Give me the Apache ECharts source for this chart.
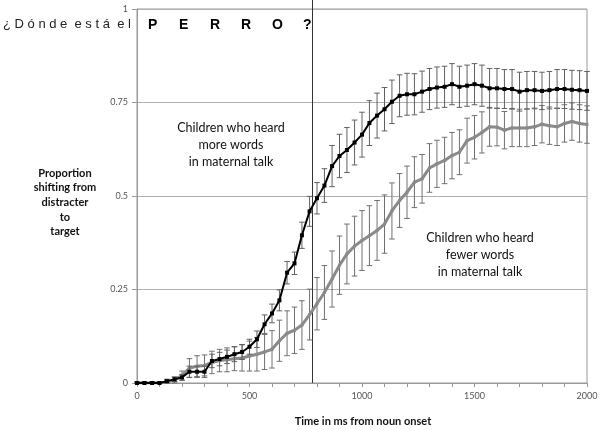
<!DOCTYPE html>
<html>
<head>
<meta charset="utf-8">
<script src="https://cdn.jsdelivr.net/npm/echarts@6/dist/echarts.min.js"></script>
<style>html,body{margin:0;padding:0;background:#fff;}#c{width:603px;height:430px;}</style>
</head>
<body>
<div id="c"></div>
<script>
const timesMs = [0,33,67,100,133,167,200,233,267,300,333,367,400,433,467,500,533,567,600,633,667,700,733,767,800,833,867,900,933,967,1000,1033,1067,1100,1133,1167,1200,1233,1267,1300,1333,1367,1400,1433,1467,1500,1533,1567,1600,1633,1667,1700,1733,1767,1800,1833,1867,1900,1933,1967,2000];

const moreWords = [0,0,0,0,0.005,0.01,0.015,0.03,0.03,0.03,0.059,0.064,0.07,0.077,0.083,0.097,0.117,0.157,0.186,0.221,0.295,0.32,0.395,0.459,0.494,0.528,0.58,0.607,0.623,0.643,0.664,0.695,0.715,0.732,0.752,0.768,0.772,0.772,0.779,0.786,0.79,0.792,0.799,0.792,0.795,0.799,0.795,0.788,0.788,0.786,0.786,0.779,0.783,0.783,0.781,0.783,0.786,0.786,0.784,0.783,0.781];
const moreWordsErr = [0.003,0.003,0.003,0.003,0.005,0.006,0.008,0.015,0.015,0.015,0.018,0.018,0.018,0.02,0.02,0.02,0.022,0.025,0.025,0.028,0.03,0.03,0.035,0.04,0.042,0.045,0.055,0.058,0.06,0.06,0.06,0.06,0.06,0.058,0.058,0.056,0.056,0.055,0.055,0.055,0.055,0.055,0.055,0.055,0.055,0.055,0.055,0.053,0.053,0.052,0.052,0.052,0.05,0.05,0.05,0.05,0.052,0.052,0.052,0.052,0.052];

const fewerWords = [0,0,0,0,0.003,0.008,0.02,0.04,0.045,0.047,0.055,0.06,0.062,0.065,0.067,0.072,0.077,0.083,0.09,0.113,0.133,0.141,0.155,0.183,0.212,0.242,0.278,0.315,0.345,0.366,0.381,0.394,0.408,0.425,0.46,0.488,0.51,0.537,0.546,0.575,0.586,0.595,0.608,0.617,0.648,0.657,0.67,0.685,0.684,0.676,0.682,0.682,0.682,0.685,0.692,0.688,0.685,0.694,0.699,0.694,0.691];
const fewerWordsErr = [0.003,0.003,0.003,0.003,0.005,0.008,0.012,0.025,0.028,0.028,0.03,0.03,0.032,0.032,0.035,0.04,0.045,0.047,0.05,0.055,0.06,0.062,0.065,0.068,0.07,0.072,0.075,0.078,0.08,0.08,0.08,0.08,0.08,0.078,0.075,0.072,0.07,0.068,0.065,0.065,0.063,0.062,0.062,0.06,0.06,0.058,0.055,0.052,0.05,0.05,0.05,0.05,0.05,0.05,0.05,0.05,0.05,0.05,0.05,0.05,0.05];

const xTicks = [0,500,1000,1500,2000];
const yTicks = [0,0.25,0.5,0.75,1];
const wordOffsetMs = [780];

const promptText = '¿ D ó n d e  e s t á  e l';
const wordLetters = ['P', 'E', 'R', 'R', 'O', '?'];
const moreLabel = 'Children who heard\nmore words\nin maternal talk';
const fewerLabel = 'Children who heard\nfewer words\nin maternal talk';
const yTitle = 'Proportion\nshifting from\ndistracter\nto\ntarget';
const xTitle = 'Time in ms from noun onset';

const lineData = (vals) => timesMs.map((t, i) => [t, vals[i]]);
const errData = (vals, errs) => timesMs.map((t, i) => [t, Math.max(0, vals[i] - errs[i]), vals[i] + errs[i]]);

function errRenderer(color) {
  return function (params, api) {
    const x = api.value(0), lo = api.value(1), hi = api.value(2);
    const p1 = api.coord([x, lo]), p2 = api.coord([x, hi]);
    const w = 2.8;
    const st = { stroke: color, lineWidth: 1 };
    return {
      type: 'group',
      children: [
        { type: 'line', shape: { x1: p1[0], y1: p1[1], x2: p2[0], y2: p2[1] }, style: st },
        { type: 'line', shape: { x1: p1[0] - w, y1: p1[1], x2: p1[0] + w, y2: p1[1] }, style: st },
        { type: 'line', shape: { x1: p2[0] - w, y1: p2[1], x2: p2[0] + w, y2: p2[1] }, style: st }
      ]
    };
  };
}

const chart = echarts.init(document.getElementById('c'), null, { renderer: 'canvas' });
const font = 'Lato, "Open Sans", sans-serif';

chart.setOption({
  animation: false,
  backgroundColor: '#fff',
  grid: { left: 137, right: 16, top: 9, bottom: 47, show: true, borderColor: '#9a9a9a', borderWidth: 1 },
  xAxis: {
    type: 'value', min: 0, max: 2000, interval: 500,
    axisLine: { show: true, lineStyle: { color: '#9a9a9a', width: 1 } },
    axisTick: { show: true, length: 4, lineStyle: { color: '#9a9a9a' } },
    minorTick: { show: true, splitNumber: 5, length: 4, lineStyle: { color: '#9a9a9a' } },
    splitLine: { show: false },
    axisLabel: { color: '#555', fontSize: 9, fontFamily: font, margin: 9,
      formatter: (v) => xTicks.includes(v) ? String(v) : '' }
  },
  yAxis: {
    type: 'value', min: 0, max: 1, interval: 0.25,
    axisLine: { show: true, lineStyle: { color: '#9a9a9a', width: 1 } },
    axisTick: { show: true, length: 5, lineStyle: { color: '#9a9a9a' } },
    splitLine: { show: true, lineStyle: { color: '#b0b0b0', width: 1 } },
    axisLabel: { color: '#555', fontSize: 9, fontFamily: font, margin: 9,
      formatter: (v) => yTicks.includes(v) ? String(v) : '' }
  },
  series: [
    {
      type: 'custom', name: 'onset', clip: false, silent: true, z: 1,
      data: wordOffsetMs.map((t) => [t]),
      renderItem: function (params, api) {
        const top = api.coord([api.value(0), 1]);
        const bot = api.coord([api.value(0), 0]);
        return { type: 'line', shape: { x1: top[0], y1: 0, x2: bot[0], y2: bot[1] }, style: { stroke: '#333', lineWidth: 1 } };
      }
    },
    {
      type: 'custom', name: 'fewerErr', z: 2, silent: true,
      data: errData(fewerWords, fewerWordsErr),
      renderItem: errRenderer('#707070')
    },
    {
      type: 'line', name: 'fewer', z: 3, data: lineData(fewerWords),
      symbol: 'rect', symbolSize: 3, showSymbol: true,
      lineStyle: { color: '#8a8a8a', width: 3 }, itemStyle: { color: '#8a8a8a' }
    },
    {
      type: 'custom', name: 'moreErr', z: 4, silent: true,
      data: errData(moreWords, moreWordsErr),
      renderItem: errRenderer('#606060')
    },
    {
      type: 'line', name: 'more', z: 5, data: lineData(moreWords),
      symbol: 'rect', symbolSize: 4, showSymbol: true,
      lineStyle: { color: '#000', width: 2 }, itemStyle: { color: '#000' }
    }
  ],
  graphic: [
    { type: 'text', left: 3, top: 18, style: { text: promptText, font: '13px "Liberation Sans", Arial, sans-serif', fill: '#222' } },
    { type: 'text', x: 148, y: 18, style: {
        text: wordLetters.map((c) => '{w|' + c + '}').join(''),
        rich: { w: { width: 31, fontSize: 14, fontWeight: 'bold', fontFamily: '"Liberation Sans", Arial, sans-serif', fill: '#000', color: '#000' } }
      } },
    { type: 'text', x: 231, y: 119, style: { text: moreLabel, font: '12.5px ' + font, fill: '#111', align: 'center', lineHeight: 17 } },
    { type: 'text', x: 480, y: 229, style: { text: fewerLabel, font: '12.5px ' + font, fill: '#111', align: 'center', lineHeight: 17 } },
    { type: 'text', x: 65, y: 166, style: { text: yTitle, font: 'bold 11px ' + font, fill: '#111', align: 'center', lineHeight: 14.6 } },
    { type: 'text', x: 363, y: 416, style: { text: xTitle, font: 'bold 11px ' + font, fill: '#111', align: 'center' } }
  ]
});
</script>
</body>
</html>
